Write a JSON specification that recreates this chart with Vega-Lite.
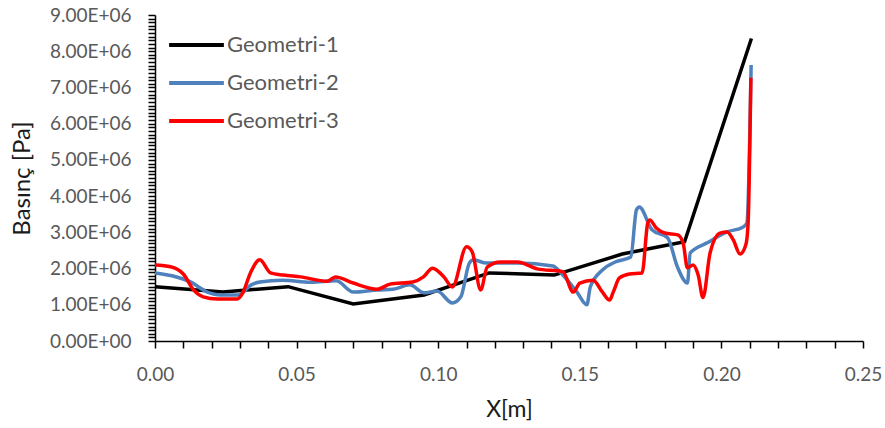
{
  "$schema": "https://vega.github.io/schema/vega-lite/v6.json",
  "autosize": "none",
  "width": 708,
  "height": 326,
  "padding": {"left": 155, "top": 15, "right": 22, "bottom": 87},
  "background": "white",
  "config": {"view": {"stroke": null}, "font": "Lato"},
  "datasets": {
    "g1": [
      {"x": 0, "y": 1500000}, {"x": 0.024, "y": 1350000}, {"x": 0.047, "y": 1500000},
      {"x": 0.070, "y": 1020000}, {"x": 0.095, "y": 1270000}, {"x": 0.118, "y": 1880000},
      {"x": 0.141, "y": 1820000}, {"x": 0.165, "y": 2400000}, {"x": 0.187, "y": 2740000},
      {"x": 0.2106, "y": 8350000}
    ],
    "g2": [
      {"x": 0, "y": 1880000}, {"x": 0.006, "y": 1800000}, {"x": 0.0125, "y": 1630000},
      {"x": 0.0185, "y": 1350000}, {"x": 0.023, "y": 1270000}, {"x": 0.0295, "y": 1270000},
      {"x": 0.034, "y": 1550000}, {"x": 0.037, "y": 1630000}, {"x": 0.045, "y": 1680000},
      {"x": 0.055, "y": 1620000}, {"x": 0.064, "y": 1660000}, {"x": 0.070, "y": 1350000},
      {"x": 0.0785, "y": 1410000}, {"x": 0.084, "y": 1430000}, {"x": 0.090, "y": 1550000},
      {"x": 0.095, "y": 1330000}, {"x": 0.0996, "y": 1380000}, {"x": 0.105, "y": 1050000},
      {"x": 0.108, "y": 1220000}, {"x": 0.111, "y": 2150000}, {"x": 0.1125, "y": 2240000},
      {"x": 0.117, "y": 2150000}, {"x": 0.128, "y": 2150000}, {"x": 0.1405, "y": 2070000},
      {"x": 0.144, "y": 1820000}, {"x": 0.149, "y": 1350000}, {"x": 0.1525, "y": 1000000},
      {"x": 0.1537, "y": 1490000}, {"x": 0.158, "y": 1960000}, {"x": 0.1625, "y": 2180000},
      {"x": 0.168, "y": 2320000}, {"x": 0.170, "y": 3620000}, {"x": 0.171, "y": 3700000},
      {"x": 0.1755, "y": 3070000}, {"x": 0.181, "y": 2850000}, {"x": 0.1845, "y": 2040000},
      {"x": 0.188, "y": 1600000}, {"x": 0.189, "y": 2430000}, {"x": 0.195, "y": 2710000},
      {"x": 0.202, "y": 3010000}, {"x": 0.2077, "y": 3150000}, {"x": 0.209, "y": 3260000},
      {"x": 0.2105, "y": 7620000}
    ],
    "g3": [
      {"x": 0, "y": 2100000}, {"x": 0.0055, "y": 2050000}, {"x": 0.010, "y": 1850000},
      {"x": 0.0136, "y": 1410000}, {"x": 0.017, "y": 1220000}, {"x": 0.022, "y": 1160000},
      {"x": 0.029, "y": 1160000}, {"x": 0.031, "y": 1330000}, {"x": 0.0337, "y": 1880000},
      {"x": 0.037, "y": 2240000}, {"x": 0.0408, "y": 1880000}, {"x": 0.0453, "y": 1820000},
      {"x": 0.0514, "y": 1770000}, {"x": 0.0608, "y": 1650000}, {"x": 0.0637, "y": 1770000},
      {"x": 0.070, "y": 1600000}, {"x": 0.0785, "y": 1430000}, {"x": 0.083, "y": 1570000},
      {"x": 0.091, "y": 1630000}, {"x": 0.0948, "y": 1770000}, {"x": 0.098, "y": 2010000},
      {"x": 0.102, "y": 1770000}, {"x": 0.105, "y": 1490000}, {"x": 0.110, "y": 2600000},
      {"x": 0.112, "y": 2460000}, {"x": 0.115, "y": 1410000}, {"x": 0.1173, "y": 2040000},
      {"x": 0.122, "y": 2180000}, {"x": 0.128, "y": 2180000}, {"x": 0.135, "y": 1990000},
      {"x": 0.144, "y": 1910000}, {"x": 0.1477, "y": 1350000}, {"x": 0.150, "y": 1600000},
      {"x": 0.1547, "y": 1680000}, {"x": 0.158, "y": 1350000}, {"x": 0.1605, "y": 1130000},
      {"x": 0.1618, "y": 1350000}, {"x": 0.164, "y": 1740000}, {"x": 0.1675, "y": 1850000},
      {"x": 0.172, "y": 1880000}, {"x": 0.174, "y": 3260000}, {"x": 0.1747, "y": 3340000},
      {"x": 0.177, "y": 3120000}, {"x": 0.180, "y": 2980000}, {"x": 0.1846, "y": 2930000},
      {"x": 0.1865, "y": 2700000}, {"x": 0.188, "y": 2020000}, {"x": 0.190, "y": 2100000},
      {"x": 0.1918, "y": 1820000}, {"x": 0.1935, "y": 1200000}, {"x": 0.196, "y": 2430000},
      {"x": 0.1995, "y": 2980000}, {"x": 0.202, "y": 3010000}, {"x": 0.2042, "y": 2790000},
      {"x": 0.2066, "y": 2400000}, {"x": 0.2086, "y": 2650000}, {"x": 0.2094, "y": 3200000},
      {"x": 0.2104, "y": 7270000}
    ]
  },
  "layer": [
    {
      "data": {"name": "g1"},
      "transform": [{"calculate": "'Geometri-1'", "as": "seri"}],
      "mark": {"type": "line", "strokeWidth": 3.5, "interpolate": "linear", "clip": true},
      "encoding": {
        "x": {"field": "x", "type": "quantitative"},
        "y": {"field": "y", "type": "quantitative"},
        "color": {"field": "seri", "type": "nominal"}
      }
    },
    {
      "data": {"name": "g2"},
      "transform": [{"calculate": "'Geometri-2'", "as": "seri"}],
      "mark": {"type": "line", "strokeWidth": 3.5, "interpolate": "monotone", "clip": true},
      "encoding": {
        "x": {"field": "x", "type": "quantitative"},
        "y": {"field": "y", "type": "quantitative"},
        "color": {"field": "seri", "type": "nominal"}
      }
    },
    {
      "data": {"name": "g3"},
      "transform": [{"calculate": "'Geometri-3'", "as": "seri"}],
      "mark": {"type": "line", "strokeWidth": 3.5, "interpolate": "monotone", "clip": true},
      "encoding": {
        "x": {
          "field": "x", "type": "quantitative",
          "scale": {"domain": [0, 0.25], "nice": false, "zero": true},
          "axis": {
            "title": "X[m]", "titleFont": "Lato", "titleFontSize": 23, "titleFontWeight": "normal", "titleColor": "#1a1a1a", "titlePadding": 14,
            "values": [0,0.01,0.02,0.03,0.04,0.05,0.06,0.07,0.08,0.09,0.1,0.11,0.12,0.13,0.14,0.15,0.16,0.17,0.18,0.19,0.2,0.21,0.22,0.23,0.24,0.25],
            "tickCount": 500,
            "labelExpr": "abs(datum.value*20 - round(datum.value*20)) < 0.000001 ? format(datum.value, '.2f') : ''",
            "labelFont": "Lato", "labelFontSize": 19, "labelColor": "#595959", "labelPadding": 17, "labelFlush": false, "labelOverlap": false,
            "domainColor": "#000000", "domainWidth": 1.5, "tickColor": "#000000", "tickWidth": 1.5, "tickSize": 7, "grid": false,
            "encode": {"ticks": {"update": {
              "y": {"value": -4},
              "y2": [{"test": "abs(datum.value*20 - round(datum.value*20)) < 0.000001", "value": 7}, {"value": 0}]
            }}}
          }
        },
        "y": {
          "field": "y", "type": "quantitative",
          "scale": {"domain": [0, 9000000], "nice": false},
          "axis": {
            "title": "Basınç [Pa]", "titleFont": "Lato", "titleFontSize": 24, "titleFontWeight": "normal", "titleColor": "#1a1a1a", "titlePadding": 15,
            "values": [0,100000,200000,300000,400000,500000,600000,700000,800000,900000,1000000,1100000,1200000,1300000,1400000,1500000,1600000,1700000,1800000,1900000,2000000,2100000,2200000,2300000,2400000,2500000,2600000,2700000,2800000,2900000,3000000,3100000,3200000,3300000,3400000,3500000,3600000,3700000,3800000,3900000,4000000,4100000,4200000,4300000,4400000,4500000,4600000,4700000,4800000,4900000,5000000,5100000,5200000,5300000,5400000,5500000,5600000,5700000,5800000,5900000,6000000,6100000,6200000,6300000,6400000,6500000,6600000,6700000,6800000,6900000,7000000,7100000,7200000,7300000,7400000,7500000,7600000,7700000,7800000,7900000,8000000,8100000,8200000,8300000,8400000,8500000,8600000,8700000,8800000,8900000,9000000],
            "tickCount": 500,
            "labelExpr": "datum.value % 1000000 == 0 ? (datum.value == 0 ? '0.00E+00' : format(datum.value/1000000, '.2f') + 'E+06') : ''",
            "labelFont": "Lato", "labelFontSize": 19, "labelColor": "#595959", "labelPadding": 17, "labelFlush": false, "labelOverlap": false,
            "domainColor": "#000000", "domainWidth": 1.5, "tickColor": "#000000", "tickWidth": 1.5, "tickSize": 7, "grid": false,
            "encode": {"ticks": {"update": {
              "x": {"value": 4},
              "x2": [{"test": "datum.value % 1000000 == 0", "value": -7}, {"value": 0}]
            }}}
          }
        },
        "color": {
          "field": "seri", "type": "nominal",
          "scale": {"domain": ["Geometri-1", "Geometri-2", "Geometri-3"], "range": ["#000000", "#4F81BD", "#FF0000"]},
          "legend": {
            "orient": "none", "legendX": 12, "legendY": 11, "title": null,
            "symbolType": "stroke", "symbolSize": 3000, "symbolStrokeWidth": 4,
            "labelFont": "Lato", "labelFontSize": 22, "labelColor": "#595959", "labelOffset": 1,
            "clipHeight": 38, "rowPadding": 0, "padding": 0
          }
        }
      }
    }
  ]
}
